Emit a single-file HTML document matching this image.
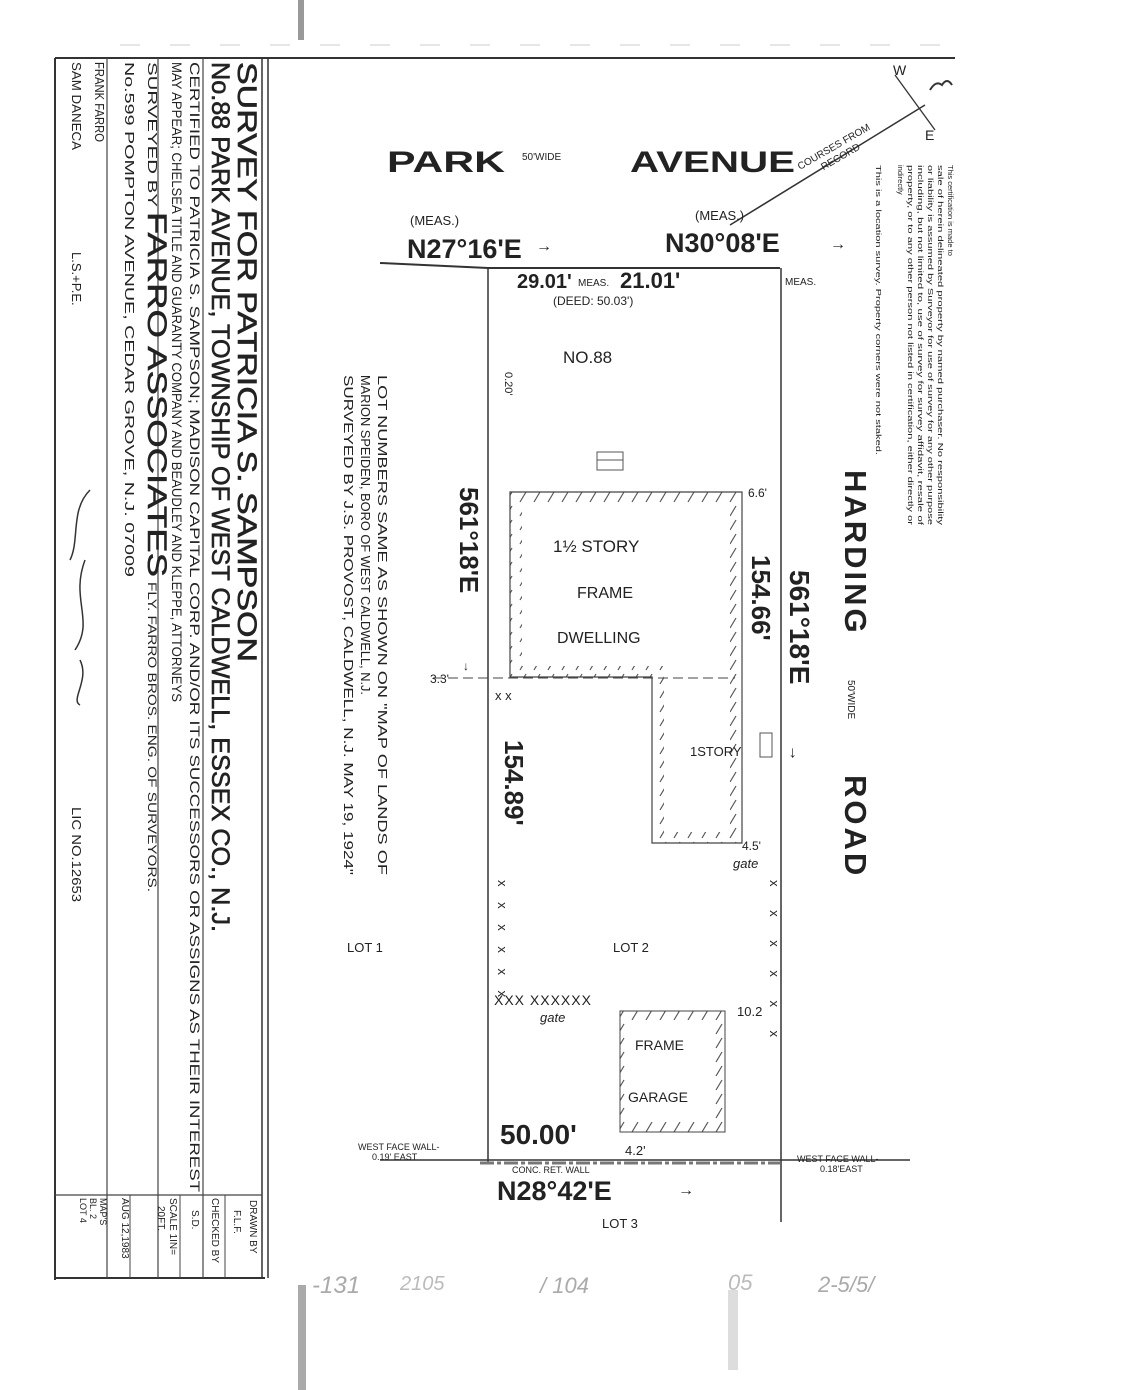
<!DOCTYPE html>
<html><head><meta charset="utf-8"><style>
html,body{margin:0;padding:0;background:#fff;}
svg{display:block;}
text{font-family:"Liberation Sans",sans-serif;fill:#222;}
</style></head><body>
<svg width="1122" height="1390" viewBox="0 0 1122 1390" xmlns="http://www.w3.org/2000/svg">
<defs>
<pattern id="h" width="14" height="14" patternUnits="userSpaceOnUse"><path d="M2 12 L8 2" stroke="#555" stroke-width="1.2"/></pattern>
</defs>
<rect x="298" y="0" width="6" height="40" fill="#999"/>
<rect x="298" y="1285" width="8" height="105" fill="#aaa"/>
<rect x="728" y="1290" width="10" height="80" fill="#ddd"/>
<line x1="120" y1="45" x2="950" y2="45" stroke="#ccc" stroke-width="1" stroke-dasharray="20 30"/>

<line x1="55" y1="58" x2="955" y2="58" stroke="#333" stroke-width="2"/>
<line x1="55" y1="58" x2="55" y2="1280" stroke="#333" stroke-width="2"/>
<line x1="55" y1="1278" x2="265" y2="1278" stroke="#333" stroke-width="2"/>
<line x1="262" y1="58" x2="262" y2="1278" stroke="#333" stroke-width="1.5"/>
<line x1="268" y1="58" x2="268" y2="1278" stroke="#333" stroke-width="1.5"/>
<line x1="107" y1="58" x2="107" y2="1278" stroke="#444" stroke-width="1.2"/>
<line x1="158" y1="58" x2="158" y2="1278" stroke="#444" stroke-width="1.2"/>
<line x1="203" y1="58" x2="203" y2="1278" stroke="#444" stroke-width="1.2"/>
<line x1="55" y1="1195" x2="262" y2="1195" stroke="#444" stroke-width="1.2"/>
<line x1="225" y1="1195" x2="225" y2="1278" stroke="#444"/>
<line x1="180" y1="1195" x2="180" y2="1278" stroke="#444"/>
<line x1="130" y1="1195" x2="130" y2="1278" stroke="#444"/>

<g transform="translate(238,62) rotate(90)"><text font-size="27" textLength="600" lengthAdjust="spacingAndGlyphs" stroke="#222" stroke-width="0.6">SURVEY FOR PATRICIA S. SAMPSON</text></g>
<g transform="translate(212,62) rotate(90)"><text font-size="25" textLength="870" lengthAdjust="spacingAndGlyphs" stroke="#222" stroke-width="0.6">No.88 PARK AVENUE, TOWNSHIP OF WEST CALDWELL, ESSEX CO., N.J.</text></g>
<g transform="translate(190,62) rotate(90)"><text font-size="14" textLength="1130" lengthAdjust="spacingAndGlyphs">CERTIFIED TO PATRICIA S. SAMPSON; MADISON CAPITAL CORP. AND/OR ITS SUCCESSORS OR ASSIGNS AS THEIR INTEREST</text></g>
<g transform="translate(172,62) rotate(90)"><text font-size="14" textLength="640" lengthAdjust="spacingAndGlyphs">MAY APPEAR; CHELSEA TITLE AND GUARANTY COMPANY AND BEAUDLEY AND KLEPPE, ATTORNEYS</text></g>
<g transform="translate(148,62) rotate(90)"><text font-size="13" textLength="145" lengthAdjust="spacingAndGlyphs">SURVEYED BY</text><text x="150" font-size="27" textLength="365" lengthAdjust="spacingAndGlyphs" stroke="#222" stroke-width="0.5">FARRO ASSOCIATES</text><text x="520" font-size="12" textLength="310" lengthAdjust="spacingAndGlyphs">FLY. FARRO BROS. ENG. OF SURVEYORS.</text></g>
<g transform="translate(125,62) rotate(90)"><text font-size="13" textLength="515" lengthAdjust="spacingAndGlyphs">No.599 POMPTON AVENUE, CEDAR GROVE, N.J. 07009</text></g>
<g transform="translate(95,62) rotate(90)"><text font-size="13" textLength="80" lengthAdjust="spacingAndGlyphs">FRANK FARRO</text></g>
<g transform="translate(72,62) rotate(90)"><text font-size="13" textLength="88" lengthAdjust="spacingAndGlyphs">SAM DANECA</text><text x="190" font-size="13">L.S.+P.E.</text><text x="745" font-size="13" textLength="95" lengthAdjust="spacingAndGlyphs">LIC NO.12653</text></g>
<path d="M90 490 C70 510 80 540 70 560 M85 560 C70 600 95 620 75 650 M80 660 C90 680 70 700 80 705" stroke="#333" stroke-width="1.5" fill="none"/>
<g transform="translate(250,1200) rotate(90)"><text font-size="10">DRAWN BY</text></g>
<g transform="translate(234,1210) rotate(90)"><text font-size="10">F.L.F.</text></g>
<g transform="translate(212,1198) rotate(90)"><text font-size="10">CHECKED BY</text></g>
<g transform="translate(192,1210) rotate(90)"><text font-size="10">S.D.</text></g>
<g transform="translate(170,1198) rotate(90)"><text font-size="10">SCALE 1IN=</text></g>
<g transform="translate(158,1206) rotate(90)"><text font-size="10">20FT.</text></g>
<g transform="translate(122,1198) rotate(90)"><text font-size="10">AUG 12,1983</text></g>
<g transform="translate(100,1198) rotate(90)"><text font-size="9">MAP'S</text></g>
<g transform="translate(90,1198) rotate(90)"><text font-size="9">BL. 2</text></g>
<g transform="translate(80,1198) rotate(90)"><text font-size="9">LOT 4</text></g>

<text x="387" y="172" font-size="30" font-weight="bold" textLength="118" lengthAdjust="spacingAndGlyphs">PARK</text>
<text x="522" y="160" font-size="10">50'WIDE</text>
<text x="630" y="172" font-size="30" font-weight="bold" textLength="165" lengthAdjust="spacingAndGlyphs">AVENUE</text>
<line x1="730" y1="225" x2="925" y2="105" stroke="#333" stroke-width="1.5"/>
<g transform="translate(800,170) rotate(-30)"><text font-size="10">COURSES FROM</text><text x="20" y="12" font-size="10">RECORD</text></g>
<line x1="895" y1="75" x2="935" y2="130" stroke="#333" stroke-width="1.3"/>
<text x="893" y="75" font-size="14">W</text><text x="925" y="140" font-size="14">E</text>
<path d="M930 90 q6-10 12 -5 q5 -8 10 0" stroke="#333" fill="none" stroke-width="2"/>
<g transform="translate(948,165) rotate(90)" font-size="7.5">
<text x="0" y="0">This certification is made to</text>
<text x="0" y="10" textLength="360" lengthAdjust="spacingAndGlyphs">sale of herein delineated property by named purchaser. No responsibility</text>
<text x="0" y="20" textLength="360" lengthAdjust="spacingAndGlyphs">or liability is assumed by Surveyor for use of survey for any other purpose</text>
<text x="0" y="30" textLength="360" lengthAdjust="spacingAndGlyphs">including, but not limited to, use of survey for survey affidavit, resale of</text>
<text x="0" y="40" textLength="360" lengthAdjust="spacingAndGlyphs">property, or to any other person not listed in certification, either directly or</text>
<text x="0" y="50">indirectly</text>
<text x="0" y="72" textLength="290" lengthAdjust="spacingAndGlyphs">This is a location survey. Property corners were not staked.</text>
</g>

<text x="410" y="225" font-size="13">(MEAS.)</text>
<text x="695" y="220" font-size="13">(MEAS.)</text>
<text x="407" y="258" font-size="27" font-weight="bold">N27°16'E</text><text x="536" y="251" font-size="16">→</text>
<text x="665" y="252" font-size="27" font-weight="bold">N30°08'E</text><text x="830" y="249" font-size="16">→</text>

<path d="M380 263 L488 268 L780 268" stroke="#333" stroke-width="2" fill="none"/>
<line x1="488" y1="268" x2="488" y2="1162" stroke="#333" stroke-width="1.5"/>
<line x1="781" y1="268" x2="781" y2="1222" stroke="#333" stroke-width="1.5"/>
<line x1="380" y1="1160" x2="910" y2="1160" stroke="#333" stroke-width="1.5"/>
<line x1="480" y1="1163" x2="780" y2="1163" stroke="#777" stroke-width="3" stroke-dasharray="14 3 4 3"/>

<text x="517" y="288" font-size="20" font-weight="bold">29.01'</text><text x="578" y="286" font-size="10">MEAS.</text>
<text x="620" y="288" font-size="22" font-weight="bold">21.01'</text><text x="785" y="285" font-size="10">MEAS.</text>
<text x="553" y="305" font-size="12">(DEED: 50.03')</text>
<text x="563" y="363" font-size="17">NO.88</text>
<g transform="translate(505,372) rotate(90)"><text font-size="11">0.20'</text></g>
<rect x="597" y="452" width="26" height="18" fill="none" stroke="#555"/>
<line x1="597" y1="460" x2="623" y2="460" stroke="#555"/>

<path d="M510 492 H742 V843 H652 V677 H510 Z" fill="url(#h)" stroke="none"/>
<rect x="522" y="503" width="208" height="163" fill="#fff"/>
<rect x="664" y="666" width="66" height="166" fill="#fff"/>
<path d="M510 492 H742 V843 H652 V677 H510 Z" fill="none" stroke="#444" stroke-width="1.2"/>
<line x1="433" y1="678" x2="735" y2="678" stroke="#444" stroke-dasharray="10 5"/>
<text x="553" y="552" font-size="17">1½ STORY</text>
<text x="577" y="598" font-size="16">FRAME</text>
<text x="557" y="643" font-size="16">DWELLING</text>
<text x="748" y="497" font-size="12">6.6'</text>
<text x="430" y="683" font-size="12">3.3'</text>
<text x="690" y="756" font-size="13">1STORY</text>
<rect x="760" y="733" width="12" height="24" fill="none" stroke="#555"/>
<text x="742" y="850" font-size="12">4.5'</text>
<text x="733" y="868" font-size="13" font-style="italic">gate</text>

<rect x="620" y="1011" width="105" height="121" fill="url(#h)" stroke="#444"/>
<rect x="630" y="1020" width="85" height="102" fill="#fff"/>
<text x="635" y="1050" font-size="14">FRAME</text>
<text x="628" y="1102" font-size="14">GARAGE</text>
<text x="737" y="1016" font-size="13">10.2</text>
<text x="625" y="1155" font-size="13">4.2'</text>
<text x="500" y="1144" font-size="28" font-weight="bold">50.00'</text>

<text x="494" y="1005" font-size="14" letter-spacing="1">XXX XXXXXX</text>
<text x="540" y="1022" font-size="13" font-style="italic">gate</text>
<text x="495" y="700" font-size="13">x x</text>
<g transform="translate(498,880) rotate(90)"><text font-size="13" letter-spacing="6">x x x x x x</text></g>
<g transform="translate(770,880) rotate(90)"><text font-size="13" letter-spacing="10">x x x x x x</text></g>

<g transform="translate(460,487) rotate(90)"><text font-size="26" font-weight="bold">561°18'E</text></g>
<text x="463" y="670" font-size="12">↓</text>
<g transform="translate(752,555) rotate(90)"><text font-size="26" font-weight="bold">154.66'</text></g>
<g transform="translate(790,570) rotate(90)"><text font-size="28" font-weight="bold">561°18'E</text><text x="175" font-size="16">→</text></g>
<g transform="translate(845,470) rotate(90)"><text font-size="31" font-weight="bold" letter-spacing="3">HARDING</text><text x="210" y="-3" font-size="10">50'WIDE</text><text x="305" font-size="31" font-weight="bold" letter-spacing="3">ROAD</text></g>
<g transform="translate(505,740) rotate(90)"><text font-size="26" font-weight="bold">154.89'</text></g>
<g transform="translate(378,375) rotate(90)" font-size="12.5">
<text textLength="500" lengthAdjust="spacingAndGlyphs">LOT NUMBERS SAME AS SHOWN ON "MAP OF LANDS OF</text>
<text y="17" textLength="320" lengthAdjust="spacingAndGlyphs">MARION SPEIDEN, BORO OF WEST CALDWELL, N.J.</text>
<text y="34" textLength="500" lengthAdjust="spacingAndGlyphs">SURVEYED BY J.S. PROVOST, CALDWELL, N.J. MAY 19, 1924"</text>
</g>

<text x="347" y="952" font-size="13">LOT 1</text>
<text x="613" y="952" font-size="13">LOT 2</text>
<text x="602" y="1228" font-size="13">LOT 3</text>
<text x="358" y="1150" font-size="9">WEST FACE WALL-</text>
<text x="372" y="1160" font-size="9">0.19' EAST</text>
<text x="512" y="1173" font-size="9">CONC. RET. WALL</text>
<text x="797" y="1162" font-size="9">WEST FACE WALL-</text>
<text x="820" y="1172" font-size="9">0.18'EAST</text>
<text x="497" y="1200" font-size="27" font-weight="bold">N28°42'E</text><text x="678" y="1195" font-size="16">→</text>

<text x="312" y="1293" font-size="24" font-style="italic" style="fill:#aaa">-131</text>
<text x="400" y="1290" font-size="20" style="fill:#bbb" font-style="italic">2105</text>
<text x="540" y="1293" font-size="22" style="fill:#aaa" font-style="italic">/ 104</text>
<text x="728" y="1290" font-size="22" style="fill:#bbb" font-style="italic">05</text>
<text x="818" y="1292" font-size="22" style="fill:#aaa" font-style="italic">2-5/5/</text>
</svg>
</body></html>
